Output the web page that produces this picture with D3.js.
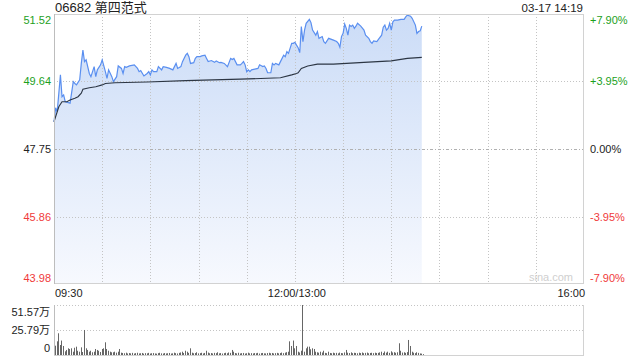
<!DOCTYPE html>
<html><head><meta charset="utf-8">
<script src="https://cdn.jsdelivr.net/npm/d3@7"></script>
<style>
html,body{margin:0;padding:0;background:#fff;}
svg{display:block;}
text{font-family:"Liberation Sans",Arial,"Noto Sans CJK SC",sans-serif;}
</style></head>
<body>
<svg id="c" width="640" height="360"></svg>
<script>
// ---- data ----
const title = "06682 第四范式";
const stamp = "03-17 14:19";
const preClose = 47.75;
const priceTicks = [51.52, 49.64, 47.75, 45.86, 43.98];
const pctTicks = ["+7.90%", "+3.95%", "0.00%", "-3.95%", "-7.90%"];
const timeLabels = ["09:30", "12:00/13:00", "16:00"];
const timeLabelMinutes = [0, 150, 330];
const volTicks = [51.57, 25.79, 0];
const volTickLabels = ["51.57万", "25.79万", "0"];
// trading minutes since 09:30 (lunch break removed) and price
const priceMin = [0,1,2,4,5,6,7,10,12,13,14,16,17,18,19,20,22,23,25,26,27,29,30,32,33,34,36,37,39,40,42,43,44,45,47,50,52,53,54,56,58,59,60,61,62,64,65,67,68,70,72,74,76,77,79,80,82,83,84,85,87,88,89,91,92,94,95,96,98,100,101,103,104,106,108,110,111,112,114,116,117,118,119,120,121,122,123,125,127,128,130,131,132,133,135,136,137,138,140,141,143,144,145,146,147,148,149,150,151,152,153,154,155,156,157,159,160,161,163,164,165,167,168,169,171,174,176,177,178,179,180,181,182,183,184,185,186,187,188,189,191,193,194,196,197,198,199,201,202,204,205,206,207,208,209,210,211,212,214,216,218,219,220,222,223,225,226,227,228,229];
const priceVal = [48.51,48.90,48.79,49.82,49.21,49.26,49.07,49.03,49.63,49.58,49.54,49.68,50.14,50.51,50.19,50.24,49.86,49.77,50.05,49.77,49.96,50.10,50.24,49.91,49.72,49.96,49.77,49.63,49.77,50.07,50.00,49.86,50.05,50.03,50.07,50.10,50.00,49.91,49.94,49.79,49.86,49.91,49.82,49.96,49.91,49.91,50.05,49.96,50.05,50.03,50.00,49.96,50.14,50.00,50.05,50.19,50.37,50.42,50.33,50.14,50.16,50.28,50.33,50.33,50.35,50.37,50.28,50.19,50.22,50.17,50.21,50.16,50.17,50.14,50.05,50.28,50.25,50.28,50.10,50.10,50.14,50.19,50.10,49.91,49.96,49.91,49.96,49.98,50.00,50.10,50.05,50.07,50.00,49.88,49.88,50.14,50.10,50.14,50.10,50.19,50.37,50.33,50.47,50.42,50.56,50.70,50.70,50.73,50.65,50.58,50.44,51.17,50.75,51.07,51.26,51.37,51.28,51.07,50.93,51.03,50.84,50.89,50.75,50.70,50.84,50.79,50.75,50.70,50.59,50.89,50.98,51.24,51.12,50.93,51.21,51.17,51.21,51.12,51.18,51.26,51.18,51.07,50.93,50.84,50.75,50.70,50.77,50.75,50.81,50.93,51.15,51.21,51.07,51.12,51.26,51.07,51.30,51.35,51.35,51.37,51.37,51.44,51.49,51.46,51.40,51.21,50.98,51.03,51.05,51.18];
const avgMin = [0,1,3,5,8,10,13,15,17,18,22,26,30,32,38,58,82,116,141,148,151,152,154,158,164,174,193,210,220,229];
const avgVal = [48.51,48.65,48.93,49.07,49.07,49.12,49.17,49.21,49.31,49.42,49.46,49.49,49.54,49.58,49.60,49.62,49.66,49.70,49.74,49.82,49.86,49.88,50.00,50.07,50.12,50.12,50.17,50.21,50.28,50.31];
// volume per minute (万股)
const volume = [9.6,14.1,22.4,10.3,14.9,9.3,3.8,5.2,6.9,6.2,6.9,3.4,7.5,8.6,4.4,3.4,7.9,3.1,25.8,6.9,
5.2,3.4,4.4,2.8,3.4,6.2,5.2,4.4,3.1,6.2,6.9,13.1,6.2,4.4,3.4,2.8,2.8,3.4,2.4,3.4,
6.2,2.4,2.1,1.8,2.4,1.6,2.0,1.7,2.2,1.5,1.9,2.3,1.6,1.8,2.1,1.4,1.9,1.7,2.2,1.5,
1.8,2.0,1.6,1.4,1.9,2.3,1.7,1.5,2.0,1.6,1.8,2.1,1.5,1.7,2.4,1.9,1.6,2.2,2.6,3.4,
2.1,4.4,3.4,2.2,6.9,2.4,1.8,2.0,2.8,1.7,1.9,2.3,1.6,2.1,4.4,2.5,1.8,2.0,1.6,2.2,
1.9,2.8,1.7,2.0,1.5,1.9,2.3,1.8,2.6,2.2,5.2,3.4,2.0,1.7,2.3,1.6,1.9,2.1,1.5,1.8,
2.4,1.7,1.9,1.6,2.0,1.8,2.2,1.5,1.9,2.1,1.7,1.6,2.0,2.3,1.8,2.1,1.6,1.9,2.2,1.7,
2.0,2.5,1.9,2.4,2.9,3.4,14.1,9.3,14.9,6.9,9.3,3.4,2.6,4.4,51.57,3.4,6.9,8.6,8.6,5.9,
6.9,6.2,3.4,2.8,2.4,3.4,2.6,4.4,2.2,1.9,3.4,2.1,1.8,2.4,1.9,2.2,1.7,2.5,2.0,1.8,
2.6,5.2,2.4,2.0,2.7,1.9,2.3,2.1,1.8,2.4,2.0,2.6,1.9,2.2,2.5,1.8,2.1,2.3,1.9,2.4,
2.0,2.2,2.7,3.4,2.1,3.6,2.4,3.4,2.2,3.8,2.6,2.9,2.3,2.8,12.1,4.4,2.5,2.8,2.2,3.0,
15.5,9.3,3.4,2.4,1.9,2.8,2.2,1.6,1.4,0.9];

// ---- drawing ----
const svg = d3.select("#c");
const L = 54, R = 584, T = 14, B = 284, VT = 305, VB = 355;
const x = d3.scaleLinear().domain([0, 330]).range([L, R]);
const y = d3.scaleLinear().domain([43.98, 51.52]).range([B, T]);
const yv = d3.scaleLinear().domain([0, 51.57]).range([VB, VT]);
const green = "#1d9f1d", red = "#f03a3a", dark = "#222";
const colorFor = v => v > preClose + 1e-9 ? green : (v < preClose - 1e-9 ? red : dark);

const defs = svg.append("defs");
const grad = defs.append("linearGradient").attr("id","g").attr("x1",0).attr("y1",0).attr("x2",0).attr("y2",1);
grad.append("stop").attr("offset","0%").attr("stop-color","#cbdcf7");
grad.append("stop").attr("offset","100%").attr("stop-color","#f7f9fe");

// area
const pts = priceMin.map((m, i) => [m, priceVal[i]]);
svg.append("path").datum(pts)
  .attr("d", d3.area().x(d => x(d[0])).y0(B).y1(d => y(d[1])))
  .attr("fill", "url(#g)");

// vertical grid
const gridMins = d3.range(30, 330, 30);
svg.append("g").selectAll("line").data(gridMins).join("line")
  .attr("x1", d => Math.round(x(d)) + 0.5).attr("x2", d => Math.round(x(d)) + 0.5)
  .attr("y1", T).attr("y2", B)
  .attr("stroke", "#c4c4c4").attr("stroke-dasharray", "1,2");
// horizontal grid
svg.append("g").selectAll("line").data(priceTicks.slice(1, 4)).join("line")
  .attr("x1", L).attr("x2", R)
  .attr("y1", d => Math.round(y(d)) + 0.5).attr("y2", d => Math.round(y(d)) + 0.5)
  .attr("stroke", d => d === preClose ? "#b0b0b0" : "#c4c4c4")
  .attr("stroke-dasharray", d => d === preClose ? "3,2,1,2" : "1,2");

// lines
svg.append("path").datum(pts)
  .attr("d", d3.line().x(d => x(d[0])).y(d => y(d[1])))
  .attr("fill", "none").attr("stroke", "#5a8ff0").attr("stroke-width", 1.2);
const apts = avgMin.map((m, i) => [m, avgVal[i]]);
svg.append("path").datum(apts)
  .attr("d", d3.line().x(d => x(d[0])).y(d => y(d[1])))
  .attr("fill", "none").attr("stroke", "#2c3644").attr("stroke-width", 1.1);

// frame
svg.append("rect").attr("x", L + 0.5).attr("y", T + 0.5).attr("width", R - L - 1).attr("height", B - T - 1)
  .attr("fill", "none").attr("stroke", "#d2d2d2");
svg.append("line").attr("x1", L + 0.5).attr("x2", L + 0.5).attr("y1", T).attr("y2", B)
  .attr("stroke", "#bdbdbd");

// title
svg.append("text").attr("x", 55).attr("y", 12).attr("font-size", 13).attr("fill", "#222").text(title);
svg.append("text").attr("x", 583).attr("y", 12).attr("font-size", 11.5).attr("fill", "#222")
  .attr("text-anchor", "end").text(stamp);

// price labels
const labelY = (v, i) => i === 0 ? y(v) + 10 : (i === priceTicks.length - 1 ? y(v) - 2.5 : y(v) + 4);
svg.append("g").selectAll("text").data(priceTicks).join("text")
  .attr("x", 51).attr("y", (d, i) => labelY(d, i))
  .attr("text-anchor", "end").attr("font-size", 11).attr("fill", d => colorFor(d))
  .text(d => d.toFixed(2));
svg.append("g").selectAll("text").data(pctTicks).join("text")
  .attr("x", 590).attr("y", (d, i) => labelY(priceTicks[i], i))
  .attr("font-size", 11).attr("fill", (d, i) => colorFor(priceTicks[i]))
  .text(d => d);

// watermark
svg.append("text").attr("x", 573).attr("y", 281).attr("text-anchor", "end")
  .attr("font-size", 11).attr("fill", "#cfcfcf").text("sina.com");

// time labels
svg.append("g").selectAll("text").data(timeLabels).join("text")
  .attr("x", (d, i) => i === 0 ? x(timeLabelMinutes[i]) + 1 : (i === 2 ? x(timeLabelMinutes[i]) + 1 : x(timeLabelMinutes[i]) + 2))
  .attr("y", 297)
  .attr("text-anchor", (d, i) => i === 0 ? "start" : (i === 2 ? "end" : "middle"))
  .attr("font-size", 11).attr("fill", "#222").text(d => d);

// volume panel
svg.append("g").selectAll("line").data(volTicks.slice(0, 2)).join("line")
  .attr("x1", L).attr("x2", R)
  .attr("y1", d => Math.round(yv(d)) + 0.5).attr("y2", d => Math.round(yv(d)) + 0.5)
  .attr("stroke", "#c4c4c4").attr("stroke-dasharray", "1,2");
svg.append("line").attr("x1", L + 0.5).attr("x2", L + 0.5).attr("y1", VT).attr("y2", VB).attr("stroke", "#bdbdbd");
svg.append("line").attr("x1", R - 0.5).attr("x2", R - 0.5).attr("y1", VT).attr("y2", VB).attr("stroke", "#d2d2d2");
svg.append("line").attr("x1", L).attr("x2", R).attr("y1", VB + 0.5).attr("y2", VB + 0.5).attr("stroke", "#d2d2d2");
svg.append("g").selectAll("rect").data(volume).join("rect")
  .attr("x", (d, i) => Math.round(x(i)) + 1).attr("width", 1)
  .attr("y", d => yv(d)).attr("height", d => VB - yv(d))
  .attr("fill", "#666");
const vLabelY = (v, i) => i === 0 ? yv(v) + 11 : (i === 2 ? yv(v) - 3.5 : yv(v) + 4);
svg.append("g").selectAll("text").data(volTickLabels).join("text")
  .attr("x", 50).attr("y", (d, i) => vLabelY(volTicks[i], i))
  .attr("text-anchor", "end").attr("font-size", 11).attr("fill", "#222").text(d => d);
</script>
</body></html>
